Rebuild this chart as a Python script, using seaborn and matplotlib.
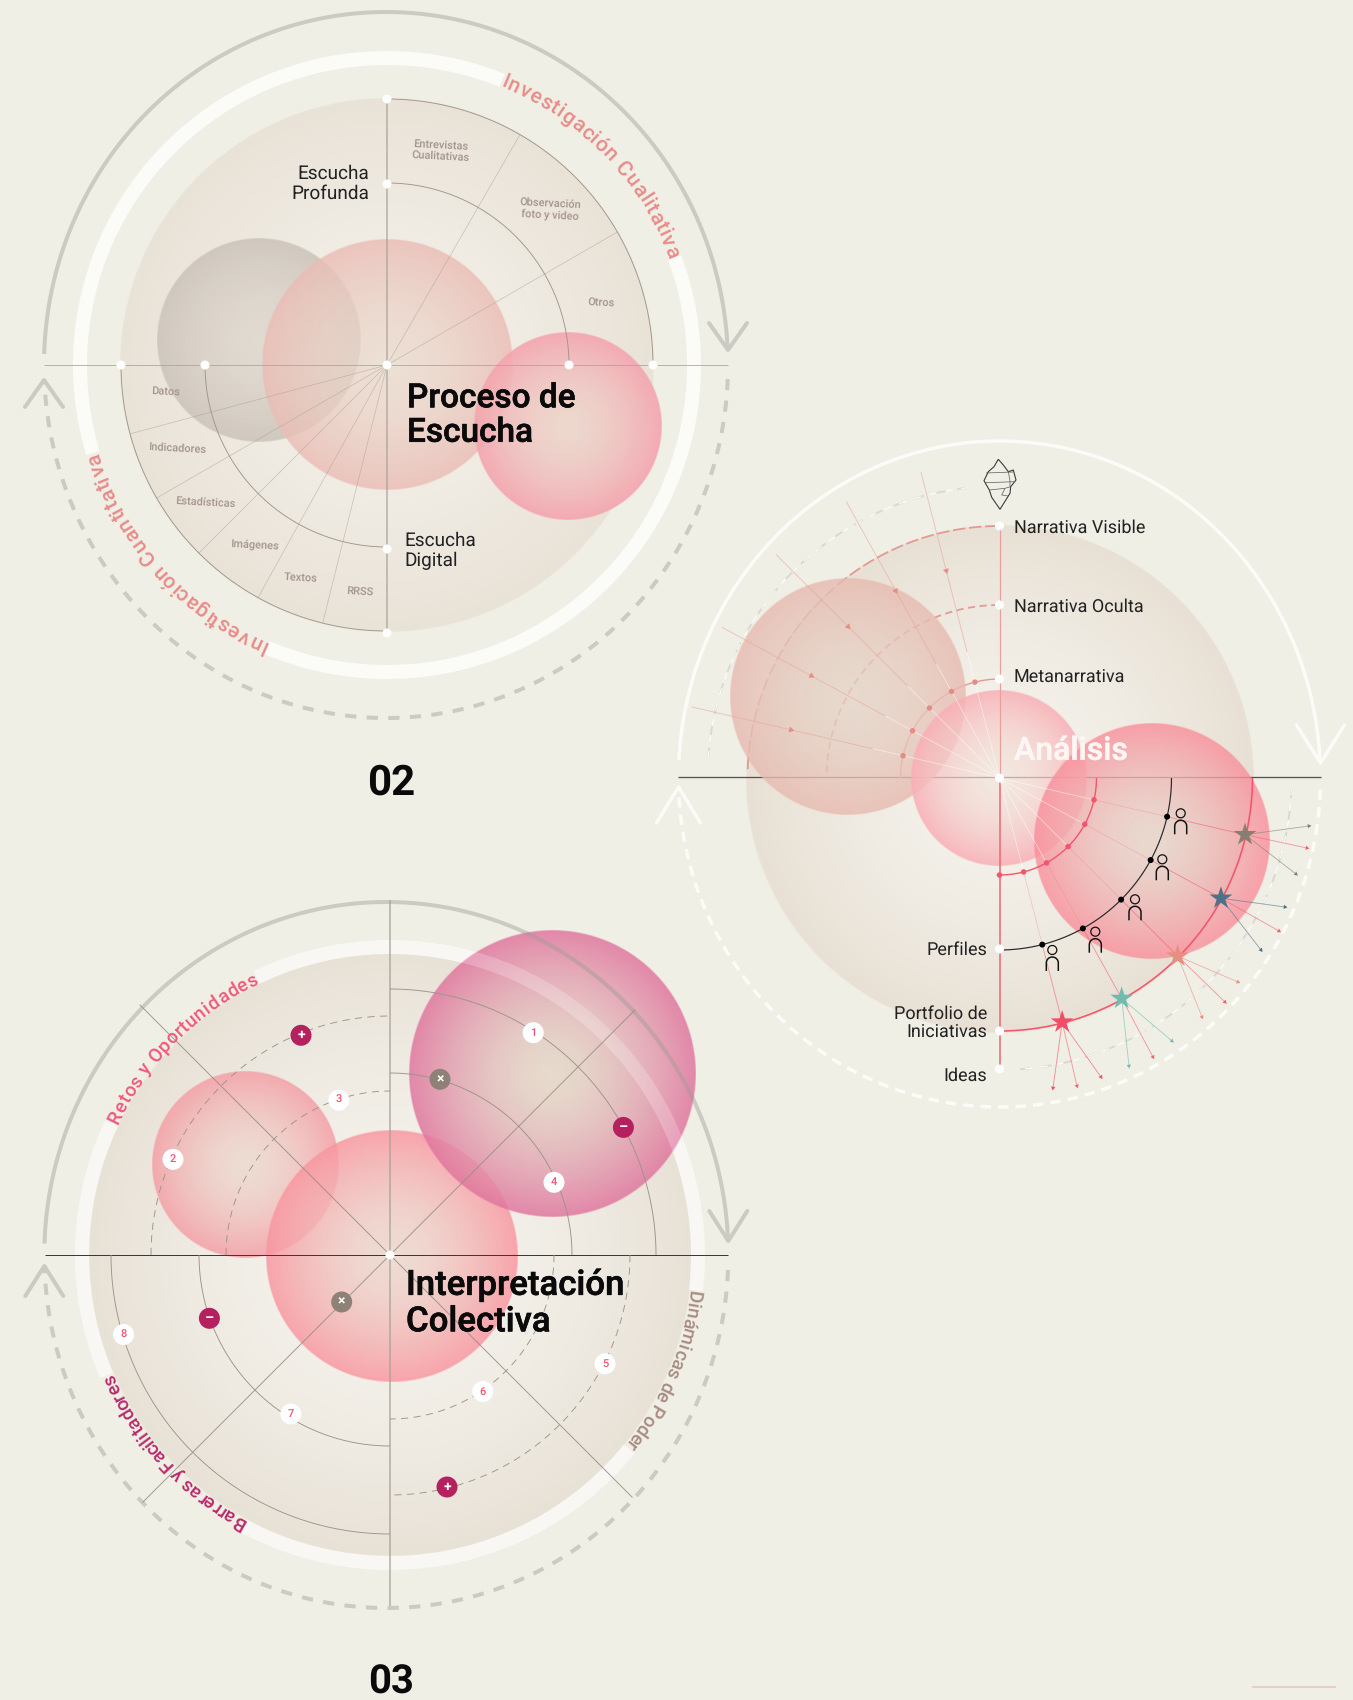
"""Three radial process diagrams: Proceso de Escucha, Analisis, Interpretacion Colectiva."""

import matplotlib

matplotlib.use("Agg")
import matplotlib.patheffects as pe
import matplotlib.pyplot as plt
import numpy as np
import seaborn as sns
from matplotlib.colors import to_rgba
from matplotlib.font_manager import FontProperties
from matplotlib.patches import Circle
from matplotlib.textpath import TextPath

sns.set_theme(style="white")
FONT = "Roboto"
plt.rcParams["font.family"] = [FONT, "DejaVu Sans"]
plt.rcParams["text.hinting"] = "no_hinting"
plt.rcParams["text.hinting_factor"] = 1

BG = "#f0efe6"
GRAY_ARC = "#cbcbc3"
WHITE = "#fbfbf8"

# --- Panel 02: Proceso de Escucha ---
P1_CENTER = (387, 365)
P1_OUTER_R = 266
P1_INNER_R = 182
P1_SPOKES = [60, 30, 195, 210, 225, 241, 256]
P1_NODE_OFFSET = [(0, -266), (0, -181), (0, 0), (0, 184), (0, 268), (-266, 0), (-182, 0), (182, 0), (266, 0)]
P1_SMALL_LABELS = ["Entrevistas\nCualitativas", "Observación\nfoto y video", "Otros", "Datos", "Indicadores",
                   "Estadísticas", "Imágenes", "Textos", "RRSS"]
P1_SMALL_X = [441, 550, 601, 166, 177, 205, 255, 301, 360]
P1_SMALL_Y = [151, 209, 304, 392, 448, 502, 545, 578, 593]
P1_BUBBLES_X = [259, 387, 567.5]
P1_BUBBLES_Y = [339.5, 364.5, 426.5]
P1_BUBBLES_R = [102, 125.5, 94]

# --- Panel Analisis ---
P2_CENTER = (999.5, 778)
P2_NODE_Y = [526, 605, 679, 778, 949, 1031, 1069]
P2_BUBBLES_X = [847.6, 999, 1152]
P2_BUBBLES_Y = [697, 778, 840.5]
P2_BUBBLES_R = [118, 88, 118]
P2_FAN_ANGLES = [13, 28.5, 45, 61, 75.6]
P2_STAR_COLORS = ["#8c7d72", "#4f7288", "#e59080", "#72bcae", "#f24d66"]
P2_FAN_END_X = [[1309, 1307, 1296], [1285, 1279, 1261], [1238, 1225, 1202], [1172, 1153, 1129], [1101, 1077, 1053]]
P2_FAN_END_Y = [[826, 848, 874], [907, 931, 950], [982, 1002, 1017], [1041, 1057, 1066], [1077, 1086, 1088]]
P2_PERSON_X = [1180.7, 1162.3, 1135, 1095.3, 1052.3]
P2_PERSON_Y = [813.3, 859.3, 899.3, 931.7, 950]
P2_RIGHT_LABELS = ["Narrativa Visible", "Narrativa Oculta", "Metanarrativa"]
P2_RIGHT_Y = [528, 607, 678]
P2_LEFT_LABELS = ["Perfiles", "Portfolio de\nIniciativas", "Ideas"]
P2_LEFT_Y = [950, 1023, 1076]
ICEBERG_X = [998.3, 994, 988.3, 984, 989.3, 991.7, 1000, 1010, 1010.7, 1016, 1013.3, 1008.3, 1003.3, 998.3]
ICEBERG_Y = [459.3, 466.7, 471.7, 480.7, 490, 497.3, 509.3, 493.3, 486.7, 480, 470, 471.7, 465, 459.3]
ICEBERG_INNER_X = [[986, 1013], [985, 1015], [989.3, 1005, 1010.7], [1005, 1001.7, 1008], [1008.3, 1010, 1010]]
ICEBERG_INNER_Y = [[473, 472], [482.7, 481.7], [490, 488.3, 486.7], [488.3, 495, 496], [471.7, 481, 487]]

# --- Panel 03: Interpretacion Colectiva ---
P3_CENTER = (390, 1255)
P3_DIAGONALS = [135, -45, 45, 225]
P3_DIAG_LEN = [354, 343, 347, 350]
P3_SOLID_ARCS = [(182, 90, 0), (266, 90, 0), (191, 270, 180), (279, 270, 180)]
P3_DASH_ARCS = [(164, 180, 90), (239, 180, 90), (164, 0, -90), (240, 0, -90)]
P3_BUBBLES_X = [552, 245, 391.4]
P3_BUBBLES_Y = [1074, 1165.3, 1256.6]
P3_BUBBLES_R = [143.5, 93.2, 125.6]
P3_NUM_LABELS = ["1", "2", "3", "4", "5", "6", "7", "8"]
P3_NUM_X = [533.2, 173, 338.8, 554, 605, 482.8, 290.8, 123.6]
P3_NUM_Y = [1032.7, 1159.3, 1100.2, 1182.3, 1363.8, 1391.5, 1414, 1334.5]
P3_SIGN_LABELS = ["+", "+", "–", "–", "×", "×"]
P3_SIGN_X = [301, 447, 623.4, 209.4, 440, 341.7]
P3_SIGN_Y = [1035.3, 1487, 1127.4, 1318.3, 1079.3, 1302]
P3_SIGN_COLORS = ["#b5205f", "#b5205f", "#b5205f", "#b5205f", "#8e8175", "#8e8175"]

fig = plt.figure(figsize=(13.53, 17), dpi=100, facecolor=BG)
ax = fig.add_axes([0, 0, 1, 1], facecolor=BG)
ax.set_axis_off()


def line(xs, ys, color, lw, z=5, dash=None, alpha=1.0, cap="butt"):
    """One polyline through seaborn, lw given in pixels."""
    kw = {"linestyle": (0, dash)} if dash else {"solid_capstyle": cap}
    sns.lineplot(x=np.asarray(xs, float), y=np.asarray(ys, float), sort=False, estimator=None, errorbar=None,
                 color=color, linewidth=lw * 0.72, alpha=alpha, zorder=z, ax=ax, legend=False, **kw)


def arc(cx, cy, rx, ry, a0, a1, color, lw, z=5, dash=None, alpha=1.0):
    a = np.radians(np.linspace(a0, a1, 240))
    line(cx + rx * np.cos(a), cy - ry * np.sin(a), color, lw, z, dash, alpha)


def dots(xs, ys, size, color="white", z=9, marker="o", ec="none", lw=0):
    sns.scatterplot(x=np.atleast_1d(xs), y=np.atleast_1d(ys), s=(size * 0.72) ** 2, color=color, marker=marker,
                    edgecolor=ec, linewidth=lw, zorder=z, ax=ax, legend=False)


def bubble(cx, cy, r, inner, outer, z=3, power=1.6):
    n = int(r * 4)
    g = np.linspace(-1, 1, n)
    d = np.hypot(*np.meshgrid(g, g))
    t = np.clip(d, 0, 1)[..., None] ** power
    rgba = np.array(inner) * (1 - t) + np.array(outer) * t
    rgba[..., 3] *= np.clip((1 - d) * r + 0.5, 0, 1)
    ax.imshow(rgba, extent=(cx - r, cx + r, cy + r, cy - r), interpolation="bilinear", zorder=z)


def curved_text(label, cx, cy, r, start, end, size, color, weight=500, z=8):
    """Clockwise text along a circle, spaced so it runs from angle start to angle end."""
    fp = FontProperties(family=FONT, size=size, weight=weight)

    def adv(s):
        bar = TextPath((0, 0), "|", prop=fp).get_extents().x1
        return TextPath((0, 0), s + "|", prop=fp).get_extents().x1 - bar

    total = adv(label)
    for i, ch in enumerate(label):
        if ch == " ":
            continue
        mid = (adv(label[:i]) + adv(label[: i + 1])) / 2 / total
        a = start + (end - start) * mid
        ra = np.radians(a)
        ax.text(cx + r * np.cos(ra), cy - r * np.sin(ra), ch, rotation=a - 90, rotation_mode="anchor", ha="center",
                va="baseline", fontsize=size, color=color, fontproperties=fp, zorder=z)


def title(x, y, s, size, color="#0a0a0a", **kw):
    """Medium weight with a hairline stroke, the semibold of the original titles."""
    ax.text(x, y, s, fontsize=size, fontweight=500, color=color, ha="left", va="center", linespacing=1.12,
            path_effects=[pe.withStroke(linewidth=0.45, foreground=color)], **kw)


def arrow_v(tip_x, tip_y, half, height, color, lw, z=5):
    line([tip_x - half, tip_x, tip_x + half], [tip_y + height, tip_y, tip_y + height], color, lw, z, cap="round")


def cycle_arcs(cx, cy, rx, ry, color, lw, top_start, tip_y, dash_start, tail_y, head_half, head_h):
    left_a = np.degrees(np.arcsin((cy - top_start) / ry))
    right_a = np.degrees(np.arcsin((cy - tip_y) / ry))
    arc(cx, cy, rx, ry, 180 - left_a, right_a, color, lw)
    arrow_v(cx + rx, tip_y, head_half, -head_h, color, lw)
    b0 = np.degrees(np.arcsin((cy - dash_start) / ry))
    b1 = np.degrees(np.arcsin((cy - tail_y) / ry))
    arc(cx, cy, rx, ry, b0, -180 - b1, color, lw, dash=(2.8, 2.6))
    arrow_v(cx - rx, tail_y, head_half, head_h, color, lw)


# ---------- Panel 02 ----------
cx, cy = P1_CENTER
bubble(cx, cy, 267, to_rgba("#f4f1ea"), to_rgba("#e9e2d7"), z=1, power=1.5)
for a0, a1 in [(20.5, -113), (196.7, 68)]:
    arc(cx, cy, 307, 307, a0, a1, WHITE, 14, z=2)
cycle_arcs(386, cy, 342, 353, GRAY_ARC, 4, 354, 350, 379, 380, 19, 27)
bubble(P1_BUBBLES_X[0], P1_BUBBLES_Y[0], P1_BUBBLES_R[0], (0.87, 0.84, 0.80, 0.80), (0.81, 0.78, 0.74, 0.95), z=3)
bubble(P1_BUBBLES_X[1], P1_BUBBLES_Y[1], P1_BUBBLES_R[1], (0.92, 0.85, 0.80, 0.70), (0.92, 0.74, 0.71, 0.82), z=3)
bubble(P1_BUBBLES_X[2], P1_BUBBLES_Y[2], P1_BUBBLES_R[2], (0.93, 0.84, 0.80, 0.88), (0.96, 0.64, 0.68, 0.90), z=3)
line([44, 728], [cy, cy], "#aaa59c", 1, z=4, alpha=0.8)
line([cx, cx], [100, 633], "#a89f95", 1.6, z=4, alpha=0.75)
for r in [P1_OUTER_R, P1_INNER_R]:
    arc(cx, cy, r, r, 90, 0, "#a29488", 0.9, z=4)
    arc(cx, cy, r, r, 180, 270, "#a29488", 0.9, z=4)
for a in P1_SPOKES:
    ra = np.radians(a)
    line([cx, cx + P1_OUTER_R * np.cos(ra)], [cy, cy - P1_OUTER_R * np.sin(ra)], "#a89c90", 0.7, z=4, alpha=0.55)
dots([cx + o[0] for o in P1_NODE_OFFSET], [cy + o[1] for o in P1_NODE_OFFSET], 9)
for t, x, y in zip(P1_SMALL_LABELS, P1_SMALL_X, P1_SMALL_Y):
    ax.text(x, y, t, fontsize=8, fontweight=500, color="#a3948c", ha="center", va="center", rotation=-3,
            linespacing=1.15, zorder=6)
ax.text(369, 183.5, "Escucha\nProfunda", fontsize=13.8, color="#222222", ha="right", va="center", linespacing=1.18, zorder=8)
ax.text(404, 551, "Escucha\nDigital", fontsize=13.8, color="#222222", ha="left", va="center", linespacing=1.18, zorder=8)
title(407, 415.5, "Proceso de\nEscucha", 24, zorder=8)
ax.text(391, 795, "02", fontsize=30, fontweight=700, color="#0a0a0a", ha="center", va="baseline", zorder=8)
curved_text("Investigación Cualitativa", cx, cy, 301, 68, 20.5, 15, "#e98b88")
curved_text("Investigación Cuantitativa", cx, cy, 301, 246.9, 196.7, 15, "#e98b88")

# ---------- Panel Analisis ----------
cx, cy = P2_CENTER
bubble(cx, cy + 1, 254, to_rgba("#f5f3ed"), to_rgba("#e8e0d4"), z=1, power=1.6)
arc(cx, cy, 321, 337, 177, 3, WHITE, 3.5, z=2)
arrow_v(cx + 321, 763, 24, -38, WHITE, 3.5, z=2)
arc(cx, cy, 321, 329, -2, -177, WHITE, 3.5, z=2, dash=(3.0, 2.0))
arrow_v(cx - 321, 787, 22, 36, WHITE, 3.5, z=2)
for a0, a1 in [(176, 96), (-2, -86)]:
    arc(cx, cy, 292, 292, a0, a1, "#dadad2", 2, z=2, dash=(5, 6))
    arc(cx, cy, 292, 292, a0, a1, "white", 1, z=2, dash=(7, 9))
line([678, 1321], [777, 777], "#55524e", 1.3, z=2)
arc(cx, cy, 99, 99, 180, 90, "#e49a92", 1.4, z=2)
arc(cx, cy, 173, 173, 178, 90, "#e49a92", 1.8, z=2, dash=(4, 2.5))
arc(cx, cy, 252, 252, 178, 90, "#e49a92", 1.8, z=2, dash=(7, 2))
bubble(P2_BUBBLES_X[0], P2_BUBBLES_Y[0], P2_BUBBLES_R[0], (0.90, 0.83, 0.78, 0.72), (0.91, 0.73, 0.69, 0.82), z=3)
bubble(P2_BUBBLES_X[1], P2_BUBBLES_Y[1], P2_BUBBLES_R[1], (0.95, 0.89, 0.85, 0.65), (0.98, 0.68, 0.71, 0.85), z=3)
bubble(P2_BUBBLES_X[2], P2_BUBBLES_Y[2], P2_BUBBLES_R[2], (0.91, 0.83, 0.79, 0.78), (0.98, 0.55, 0.60, 0.80), z=3)
line([cx, cx], [526, cy], "#e8a09c", 1.2, z=4)
line([cx, cx], [cy, 1069], "#f06a78", 1.6, z=4)
arc(cx, cy, 97, 97, 0, -90, "#f2566c", 1.4, z=4)
arc(cx, cy, 172, 172, 0, -90, "#2a2a2a", 1.2, z=5)
arc(cx, cy, 253, 253, 0, -90, "#f2566c", 1.6, z=4)

for a, sc, ex_list, ey_list in zip(P2_FAN_ANGLES, P2_STAR_COLORS, P2_FAN_END_X, P2_FAN_END_Y):
    # upper-left mirrored spoke, triangle points back to the centre
    ra = np.radians(a)
    ux, uy = -np.cos(ra), -np.sin(ra)
    line([cx, cx + 130 * ux], [cy, cy + 130 * uy], "white", 0.8, z=4, alpha=0.55)
    line([cx + 130 * ux, cx + 316 * ux], [cy + 130 * uy, cy + 316 * uy], "#e6a59c", 0.9, z=4, alpha=0.6)
    dots(cx + 214 * ux, cy + 214 * uy, 7, "#e28e85", z=5, marker=(3, 0, -a - 90))
    dots(cx + 99 * ux, cy + 99 * uy, 5.5, "#e28e85", z=5)
    # lower-right spoke up to the star
    dx, dy = np.cos(ra), np.sin(ra)
    line([cx, cx + 97 * dx], [cy, cy + 97 * dy], "white", 0.8, z=4, alpha=0.55)
    line([cx + 97 * dx, cx + 172 * dx], [cy + 97 * dy, cy + 172 * dy], "#f0808a", 0.8, z=4, alpha=0.35)
    line([cx + 172 * dx, cx + 253 * dx], [cy + 172 * dy, cy + 253 * dy], "#f0606e", 0.9, z=4, alpha=0.6)
    dots(cx + 97 * dx, cy + 97 * dy, 5.5, "#f2566c", z=5)
    dots(cx + 172 * dx, cy + 172 * dy, 6, "black", z=6)
    sx, sy = cx + 252 * dx, cy + 252 * dy
    for k, (ex, ey) in enumerate(zip(ex_list, ey_list)):
        col = "#f0606e" if k == 1 else sc
        line([sx, ex], [sy, ey], col, 0.9, z=6, alpha=0.6)
        heading = np.degrees(np.arctan2(-(ey - sy), ex - sx))
        dots(ex, ey, 5, col, z=6, marker=(3, 0, heading - 90))
    dots(sx, sy, 24, sc, z=7, marker="*")
dots(cx, 875, 5.5, "#f2566c", z=5)

for px, py in zip(P2_PERSON_X, P2_PERSON_Y):
    dots(px, py, 9, "none", z=7, ec="#111111", lw=0.9)
    t = np.linspace(np.pi, 0, 30)
    line(np.r_[px - 6, px + 6 * np.cos(t), px + 6], np.r_[py + 21, py + 13 - 6 * np.sin(t) + 0, py + 21], "#111111", 1.5, z=7)

line(ICEBERG_X, ICEBERG_Y, "#3a3a3a", 1.1, z=6)
for ix, iy in zip(ICEBERG_INNER_X, ICEBERG_INNER_Y):
    line(ix, iy, "#5a5a5a", 0.7, z=6)
dots([cx] * len(P2_NODE_Y), P2_NODE_Y, 9, z=9)
for t, y in zip(P2_RIGHT_LABELS, P2_RIGHT_Y):
    ax.text(1013.5, y, t, fontsize=13, color="#222222", ha="left", va="center", zorder=8)
for t, y in zip(P2_LEFT_LABELS, P2_LEFT_Y):
    ax.text(987, y, t, fontsize=13, color="#222222", ha="right", va="center", linespacing=1.15, zorder=8)
title(1014, 751, "Análisis", 23, color="#fdf6f4", zorder=8)

# ---------- Panel 03 ----------
cx, cy = P3_CENTER
bubble(cx, cy, 301.5, to_rgba("#f5f3ed"), to_rgba("#e8e1d6"), z=1, power=1.8)
for a0, a1 in [(115.7, -6.6), (-39, -118.5), (203, 154.5)]:
    arc(cx, cy, 308, 308, a0, a1, "#f8f7f3", 14, z=2)
cycle_arcs(386.3, cy, 342, 353, GRAY_ARC, 4, 1243.5, 1241, 1270, 1266, 19, 30)
bubble(P3_BUBBLES_X[1], P3_BUBBLES_Y[1], P3_BUBBLES_R[1], (0.93, 0.85, 0.81, 0.80), (0.96, 0.62, 0.65, 0.85), z=6)
bubble(P3_BUBBLES_X[2], P3_BUBBLES_Y[2], P3_BUBBLES_R[2], (0.93, 0.84, 0.80, 0.78), (0.98, 0.58, 0.62, 0.82), z=6)
bubble(P3_BUBBLES_X[0], P3_BUBBLES_Y[0], P3_BUBBLES_R[0], (0.90, 0.85, 0.79, 0.85), (0.88, 0.46, 0.62, 0.85), z=6.5)
# ring and grey arc stay visible through the magenta bubble
magenta_clip = Circle((P3_BUBBLES_X[0], P3_BUBBLES_Y[0]), P3_BUBBLES_R[0], transform=ax.transData)
arc(cx, cy, 308, 308, 80, -6.6, "white", 14, z=6.6, alpha=0.2)
ax.lines[-1].set_clip_path(magenta_clip)
arc(386.3, cy, 342, 353, 75, 1.5, "#a8a29c", 4, z=6.6, alpha=0.45)
ax.lines[-1].set_clip_path(magenta_clip)
line([44.6, 728], [cy, cy], "#3a3a3a", 1, z=7)
line([cx, cx], [900, 1606], "#a89f95", 1.5, z=7, alpha=0.85)
for a, n in zip(P3_DIAGONALS, P3_DIAG_LEN):
    ra = np.radians(a)
    line([cx, cx + n * np.cos(ra)], [cy, cy - n * np.sin(ra)], "#978e84", 1, z=7, alpha=0.85)
for r, a0, a1 in P3_SOLID_ARCS:
    arc(cx, cy, r, r, a0, a1, "#9d9389", 0.9, z=7)
for r, a0, a1 in P3_DASH_ARCS:
    arc(cx, cy, r, r, a0, a1, "#9d9389", 0.9, z=7, dash=(8, 6))
dots(cx, cy, 9, z=9)
dots(P3_NUM_X, P3_NUM_Y, 21, z=9)
for t, x, y in zip(P3_NUM_LABELS, P3_NUM_X, P3_NUM_Y):
    ax.text(x, y, t, fontsize=8, fontweight=500, color="#f0566f", ha="center", va="center", zorder=10)
for t, x, y, c in zip(P3_SIGN_LABELS, P3_SIGN_X, P3_SIGN_Y, P3_SIGN_COLORS):
    dots(x, y, 21, c, z=9)
    ax.text(x, y, t, fontsize=10, fontweight=700, color="white", ha="center", va="center", zorder=10)
title(406, 1303.5, "Interpretación\nColectiva", 25, zorder=11)
ax.text(391.5, 1694, "03", fontsize=29, fontweight=700, color="#0a0a0a", ha="center", va="baseline", zorder=8)
curved_text("Retos y Oportunidades", cx, cy, 302, 154.5, 115.7, 14, "#f0587a", z=11)
curved_text("Dinámicas de Poder", cx, cy, 301, -6.6, -39, 14, "#a88c82", z=11)
curved_text("Barreras y Facilitadores", cx, cy, 301, 241.5, 203, 14, "#b8296a", z=11)

line([1252, 1336], [1687, 1687], "#e5d0c4", 2, z=2)

ax.set_aspect("auto")
ax.set_xlim(0, 1353)
ax.set_ylim(1700, 0)
fig.savefig("out.png", dpi=100, facecolor=BG)
